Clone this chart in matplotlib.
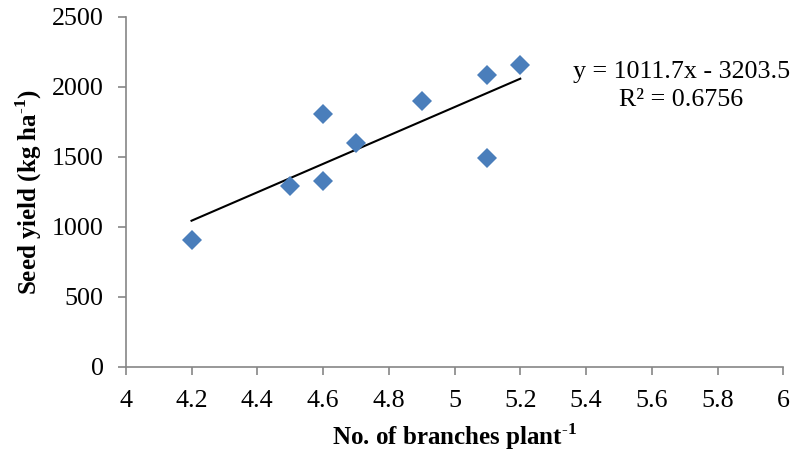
import numpy as np
import matplotlib.pyplot as plt

plt.rcParams['font.family'] = ['Liberation Serif', 'DejaVu Serif']
plt.rcParams['mathtext.fontset'] = 'custom'
plt.rcParams['mathtext.rm'] = 'Liberation Serif'
plt.rcParams['mathtext.bf'] = 'Liberation Serif:bold'

branches = [4.2, 4.5, 4.6, 4.6, 4.7, 4.9, 5.1, 5.1, 5.2]
seed_yield = [907, 1293, 1807, 1329, 1600, 1900, 2086, 1493, 2157]
x_ticks = [4, 4.2, 4.4, 4.6, 4.8, 5, 5.2, 5.4, 5.6, 5.8, 6]
y_ticks = [0, 500, 1000, 1500, 2000, 2500]

slope, intercept = np.polyfit(branches, seed_yield, 1)
x_fit = np.array([min(branches), max(branches)])

fig = plt.figure(figsize=(7.96, 4.58), dpi=100)
ax = fig.add_axes([0.158, 0.199, 0.826, 0.764])

ax.plot(x_fit, slope * x_fit + intercept, color='black', lw=1.5, zorder=2)
ax.plot(branches, seed_yield, 'D', color='#4A7EBB', markersize=10.5,
        markeredgewidth=0, zorder=3)

ax.set_xlim(4, 6)
ax.set_ylim(0, 2500)
ax.set_xticks(x_ticks)
ax.set_xticklabels([f'{t:g}' for t in x_ticks])
ax.set_yticks(y_ticks)

for s in ['top', 'right']:
    ax.spines[s].set_visible(False)
for s in ['left', 'bottom']:
    ax.spines[s].set_color('#868686')
    ax.spines[s].set_linewidth(1.2)
ax.tick_params(axis='both', colors='#868686', labelcolor='black',
               labelsize=18.7, length=6, width=1.2, direction='out')
ax.tick_params(axis='y', pad=10)
ax.tick_params(axis='x', pad=11)

ax.set_xlabel('No. of branches plant$^{\\text{-}\\mathbf{1}}$', fontsize=18,
              fontweight='bold')
ax.set_ylabel('Seed yield (kg ha$^{\\text{-}\\mathbf{1}}$)', fontsize=18,
              fontweight='bold')
ax.xaxis.label.set_va('center')
ax.yaxis.label.set_va('center')
ax.xaxis.set_label_coords(0.5, -0.2)
ax.yaxis.set_label_coords(-0.148, 0.5)

ax.text(5.69, 2105, 'y = 1011.7x - 3203.5', fontsize=18.7, ha='center', va='center')
ax.text(5.69, 1905, 'R² = 0.6756', fontsize=18.7, ha='center', va='center')

fig.savefig('out.png', dpi=100)
